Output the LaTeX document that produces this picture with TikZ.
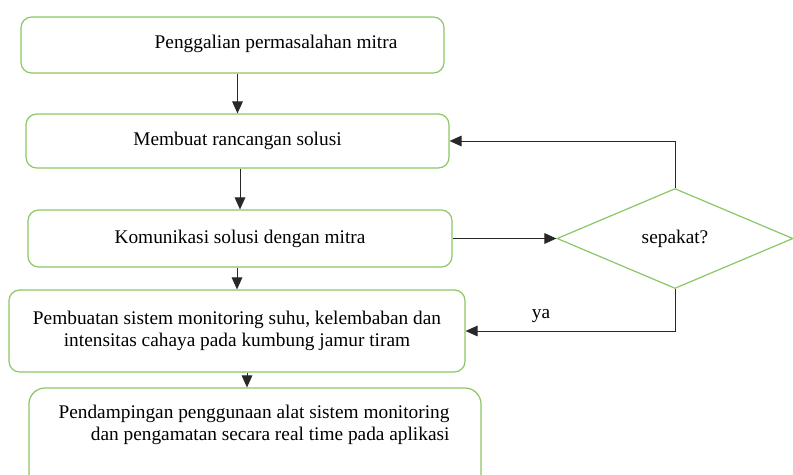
\documentclass[tikz,border=0pt]{standalone}
\usepackage{fontspec}
\setmainfont{Liberation Serif}
\usepackage{xcolor}
\usetikzlibrary{shapes.geometric, arrows.meta, positioning}

\definecolor{boxgreen}{RGB}{140,198,100}
\definecolor{linegray}{RGB}{40,40,40}

\tikzset{
  stepbox/.style={draw=boxgreen, line width=0.9pt, rounded corners=8pt, fill=white},
  askbox/.style={draw=boxgreen, line width=0.9pt, diamond, inner sep=0pt},
  txt/.style={font=\fontsize{14.5}{17}\selectfont, align=center, inner sep=0pt, text=black},
  flow/.style={draw=linegray, line width=0.7pt, -{Triangle[length=9pt, width=8pt]}},
}

\begin{document}
\begin{tikzpicture}[x=0.75pt, y=-0.75pt]

  % ── frame ──
  \useasboundingbox (0,0) rectangle (793,475);

  % ── steps ──
  \node[stepbox, minimum width=317.25pt, minimum height=42pt] (b1) at (232.5,45) {};
  \node[txt] (t1) at (276,44) {Penggalian permasalahan mitra};

  \node[stepbox, minimum width=317.25pt, minimum height=40.5pt, txt] (b2) at (237.5,141) {Membuat rancangan solusi};

  \node[stepbox, minimum width=318pt, minimum height=42.75pt, txt] (b3) at (240,238.5) {Komunikasi solusi dengan mitra};

  \node[stepbox, minimum width=342pt, minimum height=61.5pt, txt] (b4) at (237,331)
    {Pembuatan sistem monitoring suhu, kelembaban dan\\intensitas cahaya pada kumbung jamur tiram};

  \node[stepbox, rounded corners=12pt, minimum width=339pt, minimum height=80.25pt] (b5) at (255,441.5) {};
  \node[txt, align=right] (t5) at (254,425)
    {Pendampingan penggunaan alat sistem monitoring\\dan pengamatan secara real time pada aplikasi};

  % ── decision ──
  \node[askbox, minimum width=177pt, minimum height=75pt, txt] (ask) at (675,238.5) {sepakat?};

  % ── arrows ──
  \draw[flow] (b1.south -| b2) -- (b2.north);
  \draw[flow] (b2.south -| b3) -- (b3.north);
  \draw[flow] (b3.south -| b4) -- (b4.north);
  \draw[flow] ([xshift=7.5pt]b4.south) -- ([xshift=-6pt]b5.north);
  \draw[flow] (b3.east) -- (ask.west);
  \draw[flow] (ask.north) |- (b2.east);
  \draw[flow] (ask.south) |- (b4.east) node[pos=0.82, above=6pt, txt] (ya) {ya};

\end{tikzpicture}
\end{document}
